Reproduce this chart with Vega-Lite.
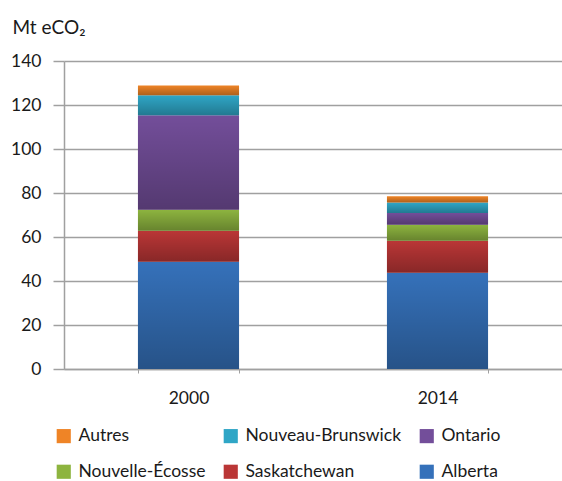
{
  "$schema": "https://vega.github.io/schema/vega-lite/v6.json",
  "autosize": "none",
  "width": 498,
  "height": 308,
  "padding": {"left": 64, "top": 61, "right": 0, "bottom": 112},
  "background": "white",
  "config": {
    "font": "Lato",
    "view": {"stroke": null}
  },
  "data": {
    "values": [
      {"annee": "2000", "province": "Alberta", "rang": 1, "valeur": 48.7},
      {"annee": "2000", "province": "Saskatchewan", "rang": 2, "valeur": 14.1},
      {"annee": "2000", "province": "Nouvelle-Écosse", "rang": 3, "valeur": 9.6},
      {"annee": "2000", "province": "Ontario", "rang": 4, "valeur": 42.9},
      {"annee": "2000", "province": "Nouveau-Brunswick", "rang": 5, "valeur": 9.1},
      {"annee": "2000", "province": "Autres", "rang": 6, "valeur": 4.5},
      {"annee": "2014", "province": "Alberta", "rang": 1, "valeur": 43.7},
      {"annee": "2014", "province": "Saskatchewan", "rang": 2, "valeur": 14.6},
      {"annee": "2014", "province": "Nouvelle-Écosse", "rang": 3, "valeur": 7.3},
      {"annee": "2014", "province": "Ontario", "rang": 4, "valeur": 5.3},
      {"annee": "2014", "province": "Nouveau-Brunswick", "rang": 5, "valeur": 4.8},
      {"annee": "2014", "province": "Autres", "rang": 6, "valeur": 2.8}
    ]
  },
  "encoding": {
    "x": {
      "field": "annee",
      "type": "nominal",
      "scale": {"paddingInner": 0.594, "paddingOuter": 0.297},
      "axis": {
        "title": null,
        "labelAngle": 0,
        "labelFontSize": 17.5,
        "labelColor": "#1a1a1a",
        "labelPadding": 16,
        "tickBand": "extent",
        "tickSize": 4,
        "tickColor": "#a0a0a0",
        "domainColor": "#a0a0a0",
        "domainWidth": 1.5,
        "grid": false
      }
    },
    "y": {
      "field": "valeur",
      "type": "quantitative",
      "stack": "zero",
      "scale": {"domain": [0, 140], "nice": false},
      "axis": {
        "title": "Mt eCO₂",
        "titleAngle": 0,
        "titleAlign": "left",
        "titleBaseline": "alphabetic",
        "titleX": -52,
        "titleY": -28,
        "titleFontSize": 19,
        "titleFontWeight": "normal",
        "titleColor": "#1a1a1a",
        "values": [0, 20, 40, 60, 80, 100, 120, 140],
        "labelFontSize": 17.5,
        "labelColor": "#1a1a1a",
        "labelPadding": 12,
        "tickSize": 11,
        "tickColor": "#a0a0a0",
        "tickWidth": 1.5,
        "gridColor": "#a0a0a0",
        "gridWidth": 1.5,
        "domainColor": "#a0a0a0",
        "domainWidth": 1.5
      }
    },
    "order": {"field": "rang", "type": "quantitative"}
  },
  "layer": [
    {
      "mark": {"type": "bar"},
      "encoding": {
        "color": {
          "field": "province",
          "type": "nominal",
          "scale": {
            "domain": ["Autres", "Nouveau-Brunswick", "Ontario", "Nouvelle-Écosse", "Saskatchewan", "Alberta"],
            "range": ["#ef8426", "#2fa6c6", "#734e9a", "#8db43f", "#ba3636", "#3571ba"]
          },
          "legend": {
            "title": null,
            "orient": "none",
            "legendX": -9,
            "legendY": 366,
            "direction": "horizontal",
            "columns": 3,
            "columnPadding": 16,
            "rowPadding": 17,
            "symbolType": "square",
            "symbolSize": 200,
            "symbolStrokeWidth": 0,
            "symbolOpacity": 1,
            "labelFontSize": 17.5,
            "labelColor": "#1a1a1a",
            "labelOffset": 6
          }
        }
      }
    },
    {
      "mark": {
        "type": "bar",
        "color": {
          "gradient": "linear",
          "x1": 0, "y1": 0, "x2": 0, "y2": 1,
          "stops": [
            {"offset": 0, "color": "rgba(0,0,0,0)"},
            {"offset": 1, "color": "rgba(0,0,0,0.27)"}
          ]
        },
        "opacity": 1
      }
    }
  ]
}
